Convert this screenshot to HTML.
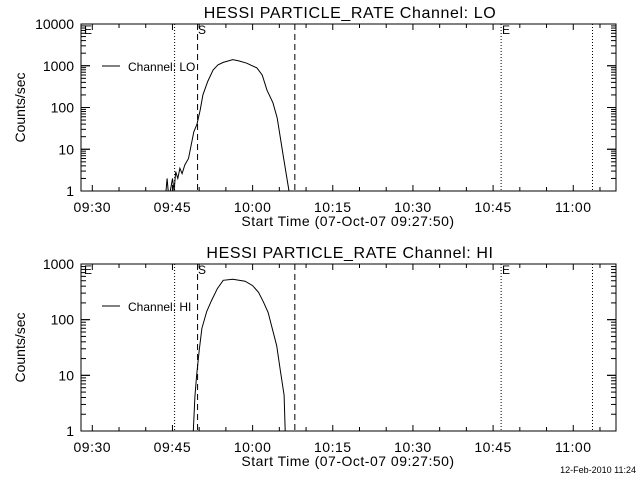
<!DOCTYPE html>
<html><head><meta charset="utf-8"><style>
body{margin:0;background:#fff}
svg{display:block;font-family:"Liberation Sans",sans-serif}
text{fill:#000}
</style></head><body>
<svg id="c" width="640" height="480" viewBox="0 0 640 480"></svg>
<script>
// data: time in minutes after 09:00, counts/sec
const loTimes=[43.8,44.0,44.2,44.6,45.0,45.3,45.6,46.0,46.4,46.8,47.3,48.0,49.0,49.6,50.2,50.7,51.6,52.6,53.5,54.5,56.3,57.5,58.9,60.8,61.8,62.7,63.8,64.6,65.7,66.8];
const loValues=[1,2,1,1,2,1,2.9,2,3.5,2.6,4.2,6,26,40,87,200,420,790,1050,1200,1400,1300,1150,890,600,260,130,56,7.3,1];
const hiTimes=[48.9,49.2,49.5,50.0,50.5,51.4,52.3,53.4,54.5,56.3,58.6,60.0,61.1,62.0,62.9,64.5,65.2,65.9,66.1];
const hiValues=[1,4.1,9.4,28,70,140,220,360,510,530,490,410,310,210,135,34,12,4.4,1];
const xTickLabels=["09:30","09:45","10:00","10:15","10:30","10:45","11:00"];
const xTickTimes=[30,45,60,75,90,105,120];
const loYTicks=[1,10,100,1000,10000];
const hiYTicks=[1,10,100,1000];
const dottedTimes=[45.4,106.5,123.6];
const dashedTimes=[49.7,67.9];

const svg=document.getElementById('c');
const NS='http://www.w3.org/2000/svg';
function el(tag,attrs,parent){const e=document.createElementNS(NS,tag);for(const k in attrs)e.setAttribute(k,attrs[k]);(parent||svg).appendChild(e);return e;}
const X0=81,X1=616,PX=5.344,T0=30,TX=92.3;
function xs(t){return TX+(t-T0)*PX;}

function panel(name,top,bottom,decades,ticks,times,values,chan){
  const g=el('g',{});
  
  
  const ys=v=>bottom-(Math.log10(Math.max(v,1)))*(bottom-top)/decades;
  const t=el('text',{x:350,y:top-6,'text-anchor':'middle','font-size':16,'letter-spacing':'0.6'},g);
  t.textContent='HESSI PARTICLE_RATE Channel: '+chan;
  
  
  const box=el('rect',{x:X0,y:top,width:X1-X0,height:bottom-top,fill:'none',stroke:'#000','stroke-width':1},g);
  
  
  for(let m=30;m<=125;m+=5){
    const x=xs(m),major=(m%15===0);const L=major?6:4;
    el('line',{x1:x,y1:bottom,x2:x,y2:bottom-L,stroke:'#000'},g);
    el('line',{x1:x,y1:top,x2:x,y2:top+L,stroke:'#000'},g);
  }
  xTickLabels.forEach((s,i)=>{
    const tx=el('text',{x:xs(xTickTimes[i]),y:bottom+21,'text-anchor':'middle','font-size':14,'letter-spacing':'0.5'},g);
    tx.textContent=s;
    
    
  });
  const xt=el('text',{x:348,y:bottom+35,'text-anchor':'middle','font-size':14,'letter-spacing':'0.5'},g);
  xt.textContent='Start Time (07-Oct-07 09:27:50)';
  
  
  for(let d=0;d<decades;d++){
    for(let k=1;k<=10;k++){
      const y=ys(k*Math.pow(10,d));const L=(k===1||k===10)?9:5;
      el('line',{x1:X0,y1:y,x2:X0+L,y2:y,stroke:'#000'},g);
      el('line',{x1:X1,y1:y,x2:X1-L,y2:y,stroke:'#000'},g);
    }
  }
  ticks.forEach(v=>{
    const tx=el('text',{x:74,y:ys(v)+5,'text-anchor':'end','font-size':14},g);
    tx.textContent=String(v);
    
    
  });
  const cy=(top+bottom)/2;
  const yt=el('text',{x:25,y:cy,'text-anchor':'middle','font-size':14,transform:'rotate(-90 25 '+cy+')'},g);
  yt.textContent='Counts/sec';
  
  
  dottedTimes.forEach(tm=>{const l=el('line',{x1:xs(tm),y1:top,x2:xs(tm),y2:bottom,stroke:'#000','stroke-dasharray':'1,2'},g);
    });
  dashedTimes.forEach(tm=>{const l=el('line',{x1:xs(tm),y1:top,x2:xs(tm),y2:bottom,stroke:'#000','stroke-dasharray':'6,4'},g);
    });
  [['E',84],['S',198],['E',502]].forEach(([s,x])=>{const tx=el('text',{x:x,y:top+10,'font-size':12},g);tx.textContent=s;
    });
  const pts=times.map((tm,i)=>xs(tm).toFixed(1)+','+ys(values[i]).toFixed(1)).join(' ');
  const pl=el('polyline',{points:pts,fill:'none',stroke:'#000','stroke-width':1},g);
  
  
  const ly=top+42;
  const ll=el('line',{x1:102,y1:ly,x2:120,y2:ly,stroke:'#000'},g);
  
  
  const lt=el('text',{x:128,y:ly+5,'font-size':12},g);
  lt.textContent='Channel: '+chan;
  
  
}
panel('lo',24,191,4,loYTicks,loTimes,loValues,'LO');
panel('hi',264,431,3,hiYTicks,hiTimes,hiValues,'HI');
const d=el('text',{x:636,y:473,'text-anchor':'end','font-size':9});
d.textContent='12-Feb-2010 11:24';


</script>
</body></html>
